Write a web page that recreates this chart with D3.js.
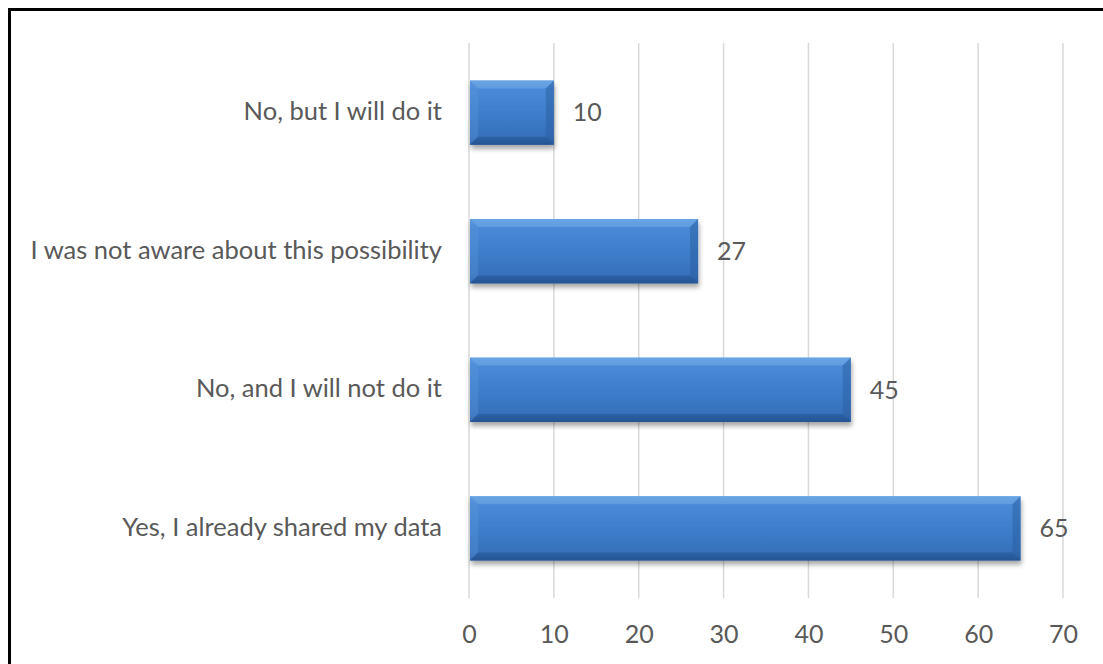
<!DOCTYPE html>
<html><head><meta charset="utf-8">
<script src="https://cdn.jsdelivr.net/npm/d3@7"></script>
<style>html,body{margin:0;padding:0;background:#fff;}svg{display:block;}</style>
</head><body>
<svg id="chart" width="1103" height="664"></svg>
<script>
const categories = ["No, but I will do it", "I was not aware about this possibility", "No, and I will not do it", "Yes, I already shared my data"];
const values = [10, 27, 45, 65];
const tickValues = [0, 10, 20, 30, 40, 50, 60, 70];

const svg = d3.select("#chart");
const W = 1103, H = 664;
const font = "Lato, 'Open Sans', sans-serif";
const textColor = "#595959";

// frame
svg.append("rect").attr("x", 9.5).attr("y", 9.5).attr("width", W + 20).attr("height", H + 20)
  .attr("fill", "#fff").attr("stroke", "#000").attr("stroke-width", 3);

const x = d3.scaleLinear().domain([0, 70]).range([469, 1063]);
const y = d3.scaleBand().domain(categories).range([43, 598]).paddingInner(0.535).paddingOuter(0.27);

const defs = svg.append("defs");
const g1 = defs.append("linearGradient").attr("id", "barGrad").attr("x1", 0).attr("y1", 0).attr("x2", 0).attr("y2", 1);
g1.append("stop").attr("offset", "0").attr("stop-color", "#5b9be0");
g1.append("stop").attr("offset", "0.12").attr("stop-color", "#4a8ad6");
g1.append("stop").attr("offset", "0.5").attr("stop-color", "#3e7ecb");
g1.append("stop").attr("offset", "0.88").attr("stop-color", "#3670bb");
g1.append("stop").attr("offset", "1").attr("stop-color", "#28599a");
const f = defs.append("filter").attr("id", "shadow").attr("x", "-5%").attr("y", "-10%").attr("width", "110%").attr("height", "140%");
f.append("feGaussianBlur").attr("in", "SourceAlpha").attr("stdDeviation", 2.5);
f.append("feOffset").attr("dx", 1).attr("dy", 4).attr("result", "ob");
f.append("feComponentTransfer").append("feFuncA").attr("type", "linear").attr("slope", 0.35);
const fm = f.append("feMerge");
fm.append("feMergeNode");
fm.append("feMergeNode").attr("in", "SourceGraphic");

// gridlines
svg.append("g").selectAll("line").data(tickValues).join("line")
  .attr("x1", d => x(d)).attr("x2", d => x(d)).attr("y1", 43).attr("y2", 598)
  .attr("stroke", "#d9d9d9").attr("stroke-width", 1.5);

// axis labels
const xAxis = d3.axisBottom(x).tickValues(tickValues).tickSize(0).tickPadding(0);
const ax = svg.append("g").attr("transform", "translate(0,634)").call(xAxis);
ax.select(".domain").remove();
ax.selectAll("text").attr("font-family", font).attr("font-size", 25).attr("fill", textColor).attr("dy", "0.35em");

const yAxis = d3.axisLeft(y).tickSize(0).tickPadding(0);
const ay = svg.append("g").attr("transform", "translate(442,0)").call(yAxis);
ay.select(".domain").remove();
ay.selectAll("text").attr("font-family", font).attr("font-size", 25.5).attr("fill", textColor).attr("dy", "0.3em");

// bars
const bars = svg.append("g").selectAll("g").data(categories).join("g");
bars.each(function(c, i) {
  const gg = d3.select(this);
  const x0 = x(0) + 1, x1 = x(values[i]);
  const y0 = y(c), h = y.bandwidth(), y1 = y0 + h;
  const b = 8;
  gg.append("rect").attr("x", x0).attr("y", y0).attr("width", x1 - x0).attr("height", h)
    .attr("fill", "url(#barGrad)").attr("filter", "url(#shadow)");
  gg.append("polygon").attr("points", [[x0, y0], [x1, y0], [x1 - b, y0 + b], [x0 + b, y0 + b]].join(" "))
    .attr("fill", "#7db2ec").attr("opacity", 0.45);
  gg.append("polygon").attr("points", [[x0, y0], [x0 + b, y0 + b], [x0 + b, y1 - b], [x0, y1]].join(" "))
    .attr("fill", "#5d98dc").attr("opacity", 0.35);
  gg.append("polygon").attr("points", [[x1, y0], [x1, y1], [x1 - b, y1 - b], [x1 - b, y0 + b]].join(" "))
    .attr("fill", "#2a5d9f").attr("opacity", 0.5);
  gg.append("polygon").attr("points", [[x0, y1], [x1, y1], [x1 - b, y1 - b], [x0 + b, y1 - b]].join(" "))
    .attr("fill", "#1f4f8c").attr("opacity", 0.45);
  gg.append("text").attr("x", x1 + 19).attr("y", y0 + h / 2).attr("dy", "0.35em")
    .attr("font-family", font).attr("font-size", 25).attr("fill", textColor).text(values[i]);
});
</script>
</body></html>
